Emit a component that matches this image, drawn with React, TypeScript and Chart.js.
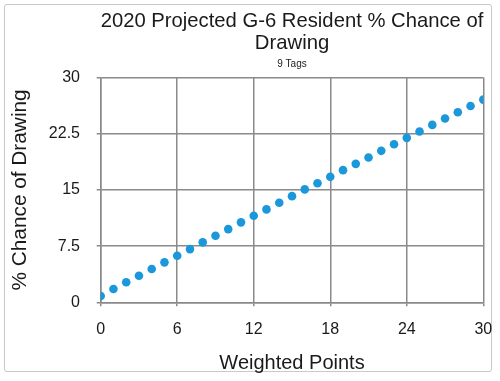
import React, { useEffect, useRef } from "react";
import { Chart, registerables } from "chart.js";

Chart.register(...registerables);

const TITLE_LINES = ["2020 Projected G-6 Resident % Chance of", "Drawing"];
const SUBTITLE = "9 Tags";
const X_TITLE = "Weighted Points";
const Y_TITLE = "% Chance of Drawing";

const weightedPoints = [
  0, 1, 2, 3, 4, 5, 6, 7, 8, 9, 10, 11, 12, 13, 14, 15, 16, 17, 18, 19, 20,
  21, 22, 23, 24, 25, 26, 27, 28, 29, 30,
];
const chancePct = [
  0.85, 1.77, 2.67, 3.55, 4.44, 5.33, 6.22, 7.1, 8.0, 8.88, 9.77, 10.67,
  11.55, 12.4, 13.28, 14.17, 15.07, 15.9, 16.75, 17.64, 18.48, 19.33, 20.22,
  21.1, 21.95, 22.8, 23.68, 24.53, 25.37, 26.2, 27.06,
];

const X_MIN = 0;
const X_MAX = 30;
const X_STEP = 6;
const Y_MIN = 0;
const Y_MAX = 30;
const Y_STEP = 7.5;

const FONT = "'Liberation Sans', Arial, Helvetica, sans-serif";
const GRID = "#8a8a8a";
const TEXT = "#1a1a1a";
const DOT = "#1b98db";

export default function App() {
  const ref = useRef<HTMLCanvasElement | null>(null);

  useEffect(() => {
    if (!ref.current) return;
    const chart = new Chart(ref.current, {
      type: "scatter",
      data: {
        datasets: [
          {
            data: weightedPoints.map((x, i) => ({ x, y: chancePct[i] })),
            backgroundColor: DOT,
            borderColor: DOT,
            borderWidth: 0,
            pointRadius: 4.3,
            pointHoverRadius: 4.3,
            showLine: false,
          },
        ],
      },
      options: {
        animation: false,
        responsive: false,
        maintainAspectRatio: false,
        layout: { padding: { left: 5, right: 16.7, top: 0, bottom: 6 } },
        plugins: {
          legend: { display: false },
          tooltip: { enabled: false },
          title: {
            display: true,
            text: TITLE_LINES,
            fullSize: false,
            color: TEXT,
            font: { family: FONT, size: 20.3, weight: "normal", lineHeight: 1.12 },
            padding: { top: 9.7, bottom: 0 },
          },
          subtitle: {
            display: true,
            text: SUBTITLE,
            fullSize: false,
            color: TEXT,
            font: { family: FONT, size: 10, weight: "normal", lineHeight: 1.2 },
            padding: { top: 2.6, bottom: 7.8 },
          },
        },
        scales: {
          x: {
            type: "linear",
            min: X_MIN,
            max: X_MAX,
            afterFit: (s: any) => {
              s.height = 72.7;
              s.paddingLeft = 0;
              s.paddingRight = 0;
            },
            ticks: {
              stepSize: X_STEP,
              color: TEXT,
              font: { family: FONT, size: 16 },
              padding: 14,
              maxRotation: 0,
            },
            grid: { color: GRID, lineWidth: 1.5, tickLength: 4 },
            border: { color: GRID, width: 1.5 },
            title: {
              display: true,
              text: X_TITLE,
              color: TEXT,
              font: { family: FONT, size: 20, lineHeight: 1.2 },
              padding: { top: 0, bottom: 0 },
            },
          },
          y: {
            type: "linear",
            min: Y_MIN,
            max: Y_MAX,
            afterFit: (s: any) => {
              s.width = 95.7;
              s.paddingTop = 0;
              s.paddingBottom = 0;
            },
            ticks: {
              stepSize: Y_STEP,
              color: TEXT,
              font: { family: FONT, size: 16 },
              padding: 16.7,
            },
            grid: { color: GRID, lineWidth: 1.5, tickLength: 4 },
            border: { color: GRID, width: 1.5 },
            title: {
              display: true,
              text: Y_TITLE,
              color: TEXT,
              font: { family: FONT, size: 20.8, lineHeight: 1.2 },
              padding: { top: 2.5, bottom: 0 },
            },
          },
        },
      },
    });
    return () => chart.destroy();
  }, []);

  return (
    <div
      style={{
        position: "absolute",
        left: 0,
        top: 0,
        width: 500,
        height: 381,
        background: "#fff",
      }}
    >
      <div
        style={{
          position: "absolute",
          left: 4,
          top: 4,
          width: 486,
          height: 366,
          border: "1.5px solid #c9c9c9",
          borderRadius: 3,
        }}
      />
      <canvas
        ref={ref}
        width={500}
        height={381}
        style={{ position: "absolute", left: 0, top: 0, width: 500, height: 381 }}
      />
    </div>
  );
}
